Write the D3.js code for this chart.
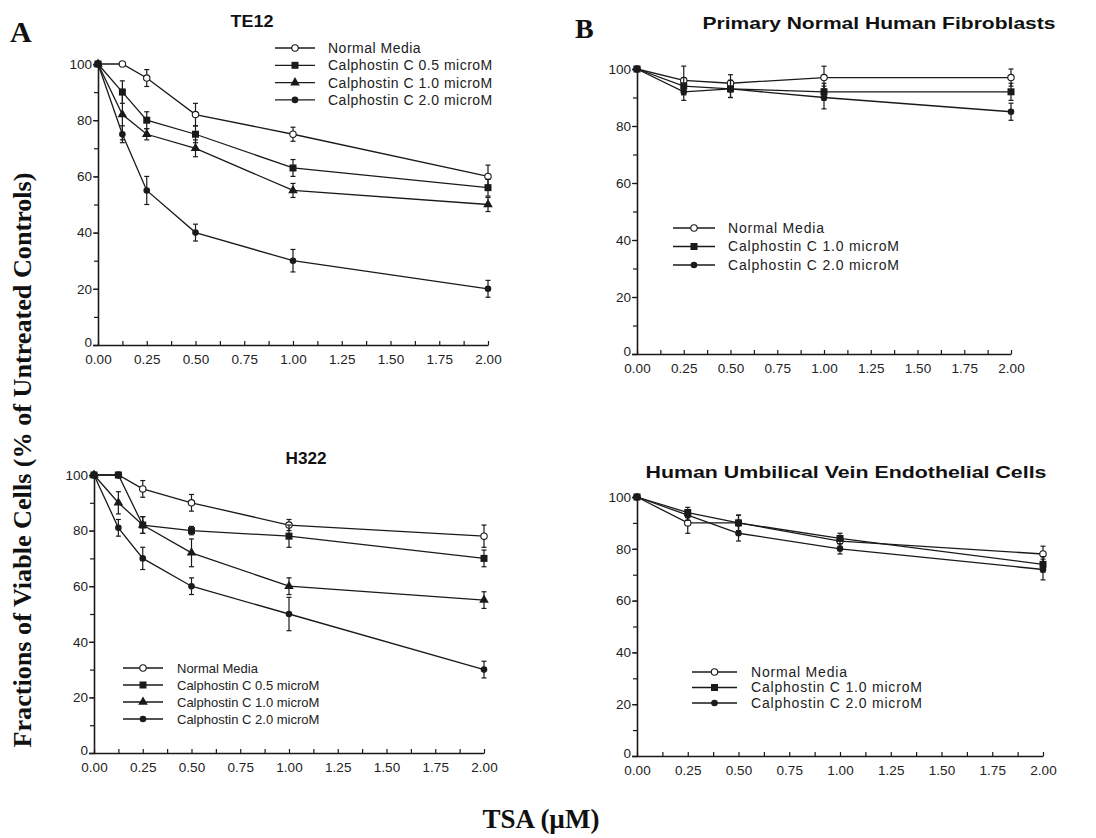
<!DOCTYPE html>
<html>
<head>
<meta charset="utf-8">
<script src="https://cdn.jsdelivr.net/npm/d3@7"></script>
<style>
  body { margin: 0; background: #fff; }
  svg { display: block; }
  .title { font-family: "Liberation Sans", Arial, sans-serif; font-weight: bold; font-size: 17px; fill: #111; }
  .serif { font-family: "Liberation Serif", "Times New Roman", serif; font-weight: bold; fill: #111; }
  .legend text { font-family: "Liberation Sans", Arial, sans-serif; fill: #222; }
</style>
</head>
<body>
<div id="chart"></div>
<script>
/// DOSES (TSA, microM) ///
const dosesFine = [0, 0.125, 0.25, 0.5, 1, 2];
const dosesCoarse = [0, 0.25, 0.5, 1, 2];

/// TE12 ///
const te12Normal = [100, 100, 95, 82, 75, 60];
const te12NormalErr = [0, 0, 3, 4, 2.5, 4];
const te12C05 = [100, 90, 80, 75, 63, 56];
const te12C05Err = [0, 4, 3, 3, 3, 3];
const te12C10 = [100, 82, 75, 70, 55, 50];
const te12C10Err = [0, 9, 2, 3, 2.5, 2.5];
const te12C20 = [100, 75, 55, 40, 30, 20];
const te12C20Err = [0, 3, 5, 3, 4, 3];

/// PRIMARY NORMAL HUMAN FIBROBLASTS ///
const fibNormal = [100, 96, 95, 97, 97];
const fibNormalErr = [0, 5, 3, 4, 3];
const fibC10 = [100, 94, 93, 92, 92];
const fibC10Err = [0, 3, 3, 3, 3];
const fibC20 = [100, 92, 93, 90, 85];
const fibC20Err = [0, 3, 3, 4, 3];

/// H322 ///
const h322Normal = [100, 100, 95, 90, 82, 78];
const h322NormalErr = [0, 0, 3, 3, 2, 4];
const h322C05 = [100, 100, 82, 80, 78, 70];
const h322C05Err = [0, 0, 3, 1.5, 4, 3];
const h322C10 = [100, 90, 82, 72, 60, 55];
const h322C10Err = [0, 4, 3, 5, 3, 3];
const h322C20 = [100, 81, 70, 60, 50, 30];
const h322C20Err = [0, 3, 4, 3, 6, 3];

/// HUVEC ///
const huvNormal = [100, 90, 90, 83, 78];
const huvNormalErr = [0, 4, 3, 2, 3];
const huvC10 = [100, 94, 90, 84, 74];
const huvC10Err = [0, 2, 3, 2, 3];
const huvC20 = [100, 93, 86, 80, 72];
const huvC20Err = [0, 2, 3, 2, 4];

/// LABELS ///
const labelNormal = "Normal Media";
const labelC05 = "Calphostin C 0.5 microM";
const labelC10 = "Calphostin C 1.0 microM";
const labelC20 = "Calphostin C 2.0 microM";
const xTickValues = [0, 0.25, 0.5, 0.75, 1, 1.25, 1.5, 1.75, 2];
const yTickValues = [0, 20, 40, 60, 80, 100];

const W = 1096;
const H = 838;
const ink = "#1a1a1a";
const tickFont = "Liberation Sans, Arial, sans-serif";

const svg = d3
  .select("#chart")
  .append("svg")
  .attr("width", W)
  .attr("height", H);

svg.append("rect").attr("width", W).attr("height", H).attr("fill", "#fff");

function drawMarker(g, shape, x, y) {
  if (shape === "open") {
    g.append("circle").attr("cx", x).attr("cy", y).attr("r", 3.2)
      .attr("fill", "#fff").attr("stroke", ink).attr("stroke-width", 1.1);
  } else if (shape === "square") {
    g.append("rect").attr("x", x - 3.5).attr("y", y - 3.5)
      .attr("width", 7).attr("height", 7).attr("fill", ink);
  } else if (shape === "triangle") {
    g.append("path")
      .attr("d", d3.symbol().type(d3.symbolTriangle).size(40)())
      .attr("transform", `translate(${x},${y})`).attr("fill", ink);
  } else {
    g.append("circle").attr("cx", x).attr("cy", y).attr("r", 3.3).attr("fill", ink);
  }
}

function drawPanel(p) {
  const g = svg.append("g");
  const x = d3.scaleLinear().domain([0, 2]).range([p.x0, p.x1]);
  const y = d3.scaleLinear().domain([0, 100]).range([p.y1, p.y0]);

  // minor ticks
  g.append("g")
    .attr("transform", `translate(0,${p.y1})`)
    .call(d3.axisBottom(x).tickValues(d3.range(0, 2.001, 0.125)).tickSize(-4).tickFormat(""))
    .call((a) => a.select(".domain").remove())
    .selectAll("line").attr("stroke", ink).attr("stroke-width", 1.2);
  g.append("g")
    .attr("transform", `translate(${p.x0},0)`)
    .call(d3.axisLeft(y).tickValues(d3.range(0, 101, 10)).tickSize(4).tickFormat(""))
    .call((a) => a.select(".domain").remove())
    .selectAll("line").attr("stroke", ink).attr("stroke-width", 1.2);

  // x axis
  const xa = g.append("g")
    .attr("transform", `translate(0,${p.y1})`)
    .call(d3.axisBottom(x).tickValues(xTickValues).tickSize(0).tickPadding(9).tickFormat(d3.format(".2f")));
  xa.select(".domain").attr("stroke", ink).attr("stroke-width", 1.6);
  xa.selectAll("text").style("font-size", "13.5px").style("font-family", tickFont).attr("fill", "#222");

  // y axis
  const ya = g.append("g")
    .attr("transform", `translate(${p.x0},0)`)
    .call(d3.axisLeft(y).tickValues(yTickValues).tickSize(5).tickPadding(1));
  ya.select(".domain").attr("stroke", ink).attr("stroke-width", 1.6);
  ya.selectAll("line").attr("stroke", ink).attr("stroke-width", 1.2);
  ya.selectAll("text").style("font-size", "13.5px").style("font-family", tickFont).attr("fill", "#222");
  ya.selectAll("text").filter((d) => d === 0).attr("dy", "0.1em");

  // title
  g.append("text").attr("class", "title")
    .attr("x", p.titleX).attr("y", p.titleY)
    .attr("text-anchor", "middle")
    .attr("textLength", p.titleW).attr("lengthAdjust", "spacingAndGlyphs")
    .text(p.title);

  const line = d3.line().x((d) => x(d[0])).y((d) => y(d[1]));

  p.series.forEach((s) => {
    const pts = p.doses.map((d, i) => [d, s.values[i], s.err[i]]);
    g.append("path").datum(pts).attr("d", line)
      .attr("fill", "none").attr("stroke", ink).attr("stroke-width", 1.3);
    pts.forEach((d) => {
      if (d[2] > 0) {
        const cx = x(d[0]);
        const ylo = y(d[1] - d[2]);
        const yhi = y(d[1] + d[2]);
        g.append("line").attr("x1", cx).attr("x2", cx).attr("y1", ylo).attr("y2", yhi)
          .attr("stroke", ink).attr("stroke-width", 1.2);
        [ylo, yhi].forEach((yy) => {
          g.append("line").attr("x1", cx - 2.5).attr("x2", cx + 2.5).attr("y1", yy).attr("y2", yy)
            .attr("stroke", ink).attr("stroke-width", 1.2);
        });
      }
    });
    pts.forEach((d) => drawMarker(g, s.shape, x(d[0]), y(d[1])));
  });

  // legend
  const lg = g.append("g").attr("class", "legend");
  p.series.forEach((s, i) => {
    const ly = p.legY + i * p.legStep;
    lg.append("line").attr("x1", p.legX).attr("x2", p.legX + p.legLen)
      .attr("y1", ly).attr("y2", ly).attr("stroke", ink).attr("stroke-width", 1.3);
    drawMarker(lg, s.shape, p.legX + p.legLen / 2, ly);
    lg.append("text")
      .attr("x", p.legX + p.legLen + p.legGap).attr("y", ly)
      .attr("dy", "0.35em")
      .style("font-size", p.legFont + "px")
      .style("letter-spacing", p.legSpacing + "px")
      .text(s.label);
  });
}

// TE12
drawPanel({
  x0: 98, x1: 488, y0: 64, y1: 345,
  title: "TE12", titleX: 252, titleY: 27, titleW: 43,
  doses: dosesFine,
  series: [
    { label: labelNormal, shape: "open", values: te12Normal, err: te12NormalErr },
    { label: labelC05, shape: "square", values: te12C05, err: te12C05Err },
    { label: labelC10, shape: "triangle", values: te12C10, err: te12C10Err },
    { label: labelC20, shape: "dot", values: te12C20, err: te12C20Err },
  ],
  legX: 275, legLen: 40, legGap: 13, legY: 48, legStep: 17.3, legFont: 14, legSpacing: 0.5,
});

// Fibroblasts
drawPanel({
  x0: 637, x1: 1011, y0: 69, y1: 354,
  title: "Primary Normal Human Fibroblasts", titleX: 879, titleY: 29, titleW: 353,
  doses: dosesCoarse,
  series: [
    { label: labelNormal, shape: "open", values: fibNormal, err: fibNormalErr },
    { label: labelC10, shape: "square", values: fibC10, err: fibC10Err },
    { label: labelC20, shape: "dot", values: fibC20, err: fibC20Err },
  ],
  legX: 673, legLen: 42, legGap: 13, legY: 228, legStep: 18.5, legFont: 14, legSpacing: 0.8,
});

// H322
drawPanel({
  x0: 94, x1: 484, y0: 475, y1: 753,
  title: "H322", titleX: 306, titleY: 464, titleW: 41,
  doses: dosesFine,
  series: [
    { label: labelNormal, shape: "open", values: h322Normal, err: h322NormalErr },
    { label: labelC05, shape: "square", values: h322C05, err: h322C05Err },
    { label: labelC10, shape: "triangle", values: h322C10, err: h322C10Err },
    { label: labelC20, shape: "dot", values: h322C20, err: h322C20Err },
  ],
  legX: 123, legLen: 40, legGap: 14, legY: 668, legStep: 17, legFont: 13, legSpacing: 0,
});

// HUVEC
drawPanel({
  x0: 637, x1: 1043, y0: 497, y1: 756,
  title: "Human Umbilical Vein Endothelial Cells", titleX: 846, titleY: 478, titleW: 401,
  doses: dosesCoarse,
  series: [
    { label: labelNormal, shape: "open", values: huvNormal, err: huvNormalErr },
    { label: labelC10, shape: "square", values: huvC10, err: huvC10Err },
    { label: labelC20, shape: "dot", values: huvC20, err: huvC20Err },
  ],
  legX: 692, legLen: 45, legGap: 14, legY: 672, legStep: 15.5, legFont: 14, legSpacing: 0.8,
});

// panel letters and shared axis labels
svg.append("text").attr("class", "serif").attr("x", 10).attr("y", 42)
  .style("font-size", "30px").text("A");
svg.append("text").attr("class", "serif").attr("x", 575).attr("y", 38)
  .style("font-size", "28px").text("B");

svg.append("text").attr("class", "serif")
  .attr("transform", "translate(31,460) rotate(-90)")
  .attr("text-anchor", "middle")
  .attr("textLength", 575).attr("lengthAdjust", "spacingAndGlyphs")
  .style("font-size", "25px")
  .text("Fractions of Viable Cells (% of Untreated Controls)");

svg.append("text").attr("class", "serif")
  .attr("x", 541).attr("y", 828)
  .attr("text-anchor", "middle")
  .style("font-size", "27px")
  .text("TSA (\u00b5M)");
</script>
</body>
</html>
